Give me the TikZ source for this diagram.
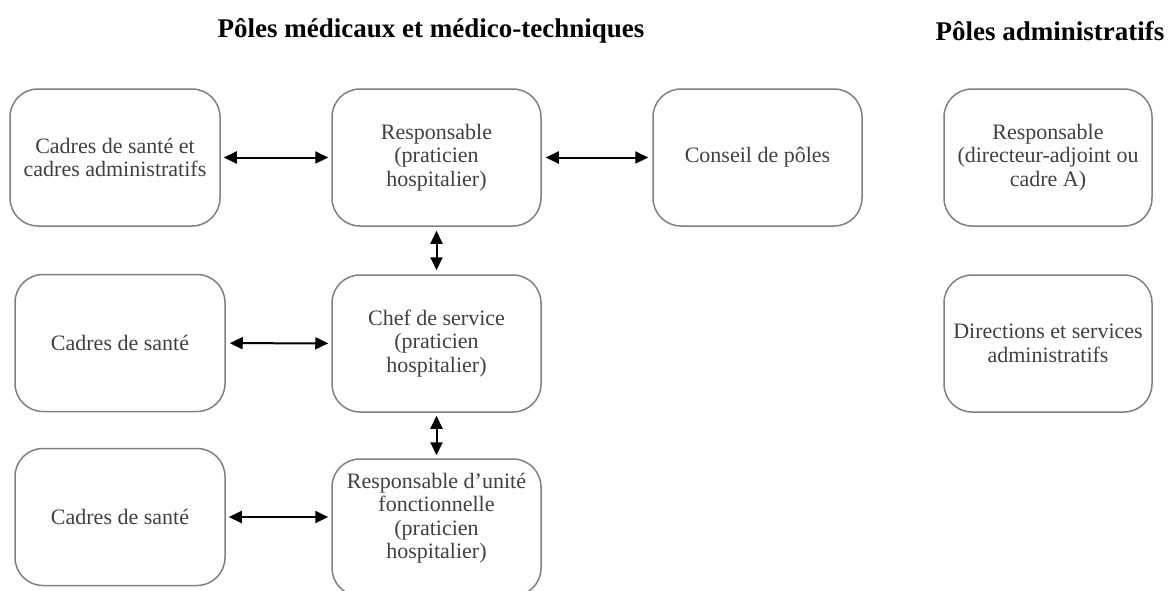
\documentclass[tikz,border=0pt]{standalone}
\usepackage{fontspec}
\setmainfont{Liberation Serif}
\usetikzlibrary{arrows.meta}
\definecolor{boxline}{HTML}{808080}
\definecolor{boxtext}{HTML}{404040}
\begin{document}
\begin{tikzpicture}[x=1pt,y=-1pt,
  unitbox/.style={draw=boxline, line width=1.5pt, rounded corners=28pt,
    minimum width=209pt, minimum height=137pt, inner sep=0pt,
    align=center, text=boxtext, font=\fontsize{22}{23.5}\selectfont},
  boxlabel/.style={align=center, text=boxtext, inner sep=0pt,
    font=\fontsize{22}{23.5}\selectfont},
  heading/.style={font=\fontsize{27}{30}\selectfont\bfseries, inner sep=0pt},
  link/.style={{Triangle[length=13pt,width=12pt]}-{Triangle[length=13pt,width=12pt]},
    line width=2pt, shorten <=3pt, shorten >=3pt}]

% page frame
\useasboundingbox (0,0) rectangle (1168,590);
\clip (0,0) rectangle (1168,590);

% column headings
\node[heading] (medtitle) at (431,31) {Pôles médicaux et médico-techniques};
\node[heading] (admtitle) at (1050,31) {Pôles administratifs};

% medical poles
\node[unitbox, minimum width=210pt] (cadresA) at (115,157.5) {Cadres de santé et\\cadres administratifs};
\node[unitbox] (resp) at (436.5,157.5) {Responsable\\(praticien\\hospitalier)};
\node[unitbox] (conseil) at (757.5,157.5) {Conseil de pôles};

\node[unitbox, minimum width=210pt] (cadresB) at (120,343) {Cadres de santé};
\node[unitbox] (chef) at (436.5,343.5) {Chef de service\\(praticien\\hospitalier)};

\node[unitbox, minimum width=210pt] (cadresC) at (120,517) {Cadres de santé};
\node[unitbox] (uf) at (436.5,527.5) {};
\node[boxlabel] (uftext) at (436.5,518) {Responsable d’unité\\fonctionnelle\\(praticien\\hospitalier)};

% administrative poles
\node[unitbox, minimum width=208pt] (respadm) at (1048,157.5) {Responsable\\(directeur-adjoint ou\\cadre A)};
\node[unitbox, minimum width=208pt] (dirs) at (1048,343.5) {Directions et services\\administratifs};

% links
\draw[link] (cadresA) -- (resp);
\draw[link, shorten <=4pt, shorten >=4pt] (resp) -- (conseil);
\draw[link, shorten <=4pt, shorten >=4pt] (resp) -- (chef);
\draw[link, shorten <=4pt] (cadresB) -- (chef);
\draw[link] (chef) -- (uf);
\draw[link] (cadresC.east) -- (cadresC.east -| uf.west);

\end{tikzpicture}
\end{document}
